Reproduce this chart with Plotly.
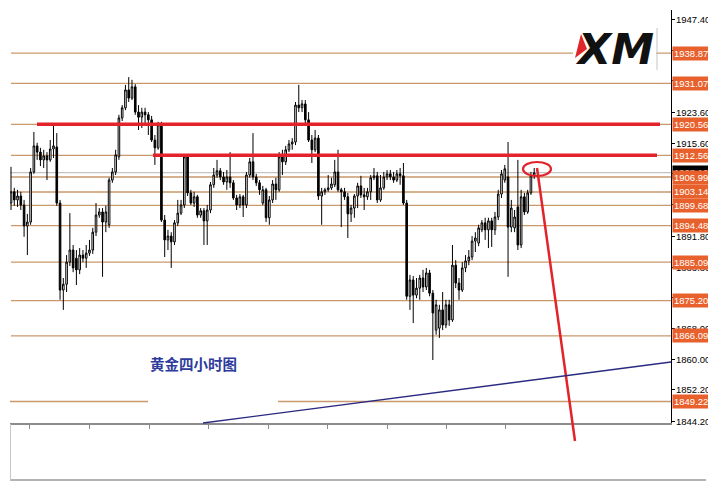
import plotly.graph_objects as go

# ---------------- data (gold, 4-hour candles) ----------------
opens = [1900.3, 1903.2, 1901.1, 1902.1, 1899.8, 1894.4, 1895.4, 1908.3, 1915.0, 1913.4,
         1911.4, 1912.4, 1911.4, 1914.2, 1914.7, 1900.3, 1877.9, 1879.4, 1885.1, 1888.2,
         1886.1, 1883.1, 1886.9, 1886.1, 1887.4, 1888.2, 1892.8, 1897.2, 1898.0, 1895.4,
         1894.7, 1906.2, 1908.3, 1912.2, 1922.2, 1924.8, 1929.4, 1927.3, 1930.2, 1923.7,
         1922.4, 1923.7, 1923.0, 1921.7, 1916.5, 1914.5, 1920.4, 1895.9, 1890.8, 1891.8,
         1890.3, 1895.2, 1897.7, 1899.8, 1912.2, 1902.9, 1900.3, 1901.9, 1897.2, 1898.3,
         1895.7, 1898.5, 1905.0, 1907.5, 1908.6, 1907.0, 1905.7, 1907.0, 1905.5, 1901.6,
         1899.8, 1901.9, 1899.8, 1907.5, 1910.9, 1907.0, 1905.5, 1900.3, 1903.7, 1896.5,
         1901.1, 1905.2, 1903.7, 1912.2, 1910.9, 1914.0, 1915.5, 1916.0, 1925.5, 1924.8,
         1925.8, 1921.7, 1916.5, 1914.0, 1917.0, 1902.1, 1903.2, 1903.7, 1904.2, 1905.0,
         1908.3, 1903.7, 1903.2, 1901.9, 1897.5, 1899.0, 1902.1, 1904.7, 1902.4, 1901.9,
         1903.2, 1906.8, 1907.3, 1901.1, 1904.2, 1907.0, 1907.8, 1907.0, 1906.2, 1907.8,
         1907.3, 1900.3, 1876.3, 1880.5, 1876.6, 1878.4, 1881.0, 1878.7, 1882.3, 1877.1,
         1867.6, 1868.1, 1872.8, 1868.9, 1874.1, 1870.2, 1884.3, 1879.7, 1877.9, 1883.6,
         1885.4, 1886.4, 1890.5, 1890.0, 1893.4, 1895.2, 1893.4, 1895.7, 1893.4, 1896.7,
         1902.6, 1906.2, 1907.0, 1894.1, 1893.9, 1899.3, 1889.5, 1901.9, 1898.0, 1902.9,
         1907.3]
closes = [1903.2, 1901.1, 1902.1, 1899.8, 1894.4, 1895.4, 1908.3, 1915.0, 1913.4, 1911.4,
          1912.4, 1911.4, 1914.2, 1915.0, 1900.3, 1877.9, 1879.4, 1885.1, 1888.2, 1883.6,
          1883.1, 1886.9, 1886.1, 1887.4, 1888.2, 1892.8, 1897.2, 1898.0, 1895.4, 1898.0,
          1906.2, 1908.3, 1912.7, 1922.2, 1924.8, 1929.4, 1927.3, 1930.2, 1923.7, 1922.4,
          1923.7, 1923.0, 1921.7, 1916.5, 1914.5, 1920.4, 1895.9, 1890.8, 1891.8, 1890.3,
          1895.2, 1897.7, 1899.8, 1912.2, 1902.9, 1900.3, 1901.9, 1897.2, 1898.3, 1895.7,
          1898.5, 1905.0, 1907.5, 1908.6, 1907.0, 1905.7, 1907.0, 1905.5, 1901.6, 1899.8,
          1901.9, 1899.8, 1907.5, 1910.9, 1907.0, 1905.5, 1903.7, 1903.7, 1896.5, 1901.1,
          1905.2, 1903.7, 1912.2, 1910.9, 1914.0, 1915.5, 1916.0, 1925.5, 1924.8, 1925.8,
          1921.7, 1916.5, 1914.0, 1917.0, 1902.1, 1903.2, 1903.7, 1904.2, 1905.2, 1908.3,
          1903.7, 1903.2, 1901.9, 1897.5, 1899.0, 1902.1, 1904.7, 1902.4, 1901.9, 1903.2,
          1906.8, 1907.3, 1901.1, 1904.2, 1907.0, 1907.8, 1907.0, 1906.2, 1907.8, 1907.3,
          1900.3, 1876.3, 1880.5, 1876.6, 1878.4, 1881.0, 1878.7, 1882.3, 1877.1, 1872.0,
          1874.1, 1872.8, 1868.9, 1874.1, 1870.2, 1884.3, 1879.7, 1877.9, 1883.6, 1885.4,
          1886.4, 1890.5, 1891.3, 1893.9, 1895.2, 1893.4, 1895.7, 1893.4, 1896.7, 1902.6,
          1907.8, 1909.1, 1894.1, 1899.0, 1896.7, 1889.5, 1901.9, 1898.0, 1902.9, 1907.3,
          1908.1]
highs = [1909.6, 1904.2, 1903.7, 1903.2, 1901.1, 1897.5, 1909.3, 1918.6, 1915.8, 1914.5,
         1914.0, 1913.4, 1916.5, 1920.4, 1918.3, 1901.1, 1881.0, 1886.9, 1897.7, 1889.5,
         1888.2, 1888.7, 1888.2, 1889.5, 1890.8, 1893.9, 1900.3, 1899.0, 1899.0, 1899.6,
         1906.8, 1909.3, 1914.0, 1923.0, 1925.5, 1930.7, 1932.7, 1932.0, 1930.9, 1925.5,
         1924.8, 1924.8, 1923.7, 1922.7, 1917.8, 1921.2, 1921.2, 1897.2, 1893.4, 1892.8,
         1895.9, 1901.1, 1901.1, 1912.7, 1912.7, 1903.7, 1903.2, 1902.4, 1899.0, 1899.0,
         1899.8, 1905.7, 1909.3, 1911.4, 1909.3, 1908.3, 1908.8, 1913.4, 1906.2, 1902.4,
         1902.6, 1902.4, 1908.3, 1911.9, 1918.3, 1907.8, 1906.2, 1904.7, 1904.2, 1902.1,
         1906.2, 1906.8, 1913.4, 1914.0, 1915.0, 1916.5, 1917.0, 1926.3, 1930.7, 1926.8,
         1926.8, 1923.7, 1917.8, 1919.1, 1917.8, 1904.2, 1904.2, 1907.5, 1906.8, 1911.4,
         1914.0, 1904.2, 1904.2, 1902.9, 1899.8, 1902.6, 1905.5, 1907.3, 1904.2, 1904.2,
         1907.5, 1909.3, 1908.3, 1907.5, 1908.3, 1908.8, 1908.8, 1908.3, 1908.8, 1909.3,
         1910.6, 1901.1, 1881.8, 1881.5, 1881.0, 1881.8, 1883.1, 1883.6, 1883.1, 1877.9,
         1875.4, 1874.1, 1877.4, 1875.4, 1875.4, 1889.5, 1885.6, 1881.0, 1885.1, 1886.9,
         1888.2, 1891.8, 1892.8, 1894.7, 1895.9, 1896.5, 1896.5, 1896.5, 1898.0, 1903.7,
         1908.8, 1910.1, 1916.0, 1901.1, 1898.5, 1911.4, 1903.7, 1902.9, 1903.7, 1908.3,
         1909.3]
lows = [1898.5, 1899.6, 1899.3, 1898.5, 1891.6, 1886.9, 1894.7, 1907.8, 1911.4, 1909.8,
        1909.3, 1906.2, 1910.9, 1911.9, 1899.6, 1875.4, 1872.8, 1877.4, 1884.1, 1882.5,
        1879.2, 1882.0, 1885.1, 1883.6, 1886.7, 1887.2, 1891.8, 1896.5, 1881.3, 1892.8,
        1893.9, 1905.5, 1907.5, 1911.4, 1921.4, 1924.2, 1926.3, 1926.8, 1923.0, 1919.1,
        1919.6, 1920.4, 1917.8, 1916.0, 1910.1, 1914.0, 1895.4, 1886.4, 1888.2, 1883.6,
        1889.5, 1894.4, 1897.2, 1899.0, 1902.1, 1899.8, 1899.3, 1896.5, 1896.5, 1889.5,
        1889.5, 1897.7, 1904.2, 1906.8, 1906.2, 1905.0, 1903.7, 1904.2, 1901.1, 1898.5,
        1899.0, 1896.7, 1899.0, 1906.8, 1906.2, 1904.7, 1902.4, 1899.8, 1895.4, 1894.7,
        1900.3, 1901.1, 1903.2, 1907.5, 1910.1, 1913.4, 1914.0, 1915.2, 1923.7, 1923.7,
        1920.6, 1916.0, 1910.6, 1913.4, 1901.1, 1894.7, 1902.4, 1903.2, 1903.7, 1904.4,
        1903.2, 1894.1, 1901.1, 1891.3, 1895.4, 1896.5, 1899.0, 1901.6, 1898.5, 1901.1,
        1901.1, 1906.2, 1900.3, 1900.6, 1903.7, 1906.2, 1906.2, 1905.5, 1905.7, 1905.0,
        1899.8, 1875.4, 1872.8, 1869.4, 1875.8, 1875.4, 1877.4, 1877.9, 1876.3, 1859.9,
        1866.4, 1865.6, 1867.6, 1868.1, 1868.7, 1869.7, 1878.4, 1875.4, 1877.4, 1882.5,
        1884.3, 1885.6, 1887.7, 1889.2, 1892.8, 1890.8, 1888.7, 1889.0, 1892.1, 1895.9,
        1901.6, 1905.5, 1881.3, 1892.8, 1892.8, 1888.2, 1888.7, 1897.2, 1897.5, 1902.4,
        1906.5]

level_prices = [1938.87, 1931.07, 1920.56, 1912.56, 1906.99, 1903.14, 1899.68,
                1894.48, 1885.09, 1875.20, 1866.09, 1849.22]
level_labels = ["1938.87", "1931.07", "1920.56", "1912.56", "1906.99", "1903.14", "1899.68",
                "1894.48", "1885.09", "1875.20", "1866.09", "1849.22"]
# all price-scale tick marks
axis_ticks = [1947.40, 1939.60, 1931.80, 1923.60, 1915.60, 1907.80, 1899.80,
              1891.80, 1883.80, 1876.00, 1868.00, 1860.00, 1852.20, 1844.20]
# price-scale labels that are visible (the others sit under the level labels)
label_ticks = [1947.40, 1923.60, 1915.60, 1891.80, 1883.80, 1868.00, 1860.00, 1852.20, 1844.20]
label_texts = ["1947.40", "1923.60", "1915.60", "1891.80", "1883.80", "1868.00", "1860.00",
               "1852.20", "1844.20"]
resistance_prices = [1920.56, 1912.56]
bid_price = 1908.10
bid_label = "1908.10"
time_ticks = [5.8, 24.0, 42.2, 60.4, 78.6, 96.8, 115.0, 133.1, 151.3]
title_text = "黄金四小时图"

# ---------------- geometry (target pixels -> paper) ----------------
# the page body has an 8px margin, so the figure is 8px smaller in each direction
PAGE_OFF = 8
W, H = 716, 499
L, R, T, B = 10, 671, 10, 423


def px(x):
    return (x - L) / (R - L)


def py(y):
    return (B - y) / (B - T)


fig = go.Figure(go.Candlestick(
    x=list(range(len(opens))), open=opens, high=highs, low=lows, close=closes,
    increasing=dict(fillcolor="white", line=dict(color="black", width=1)),
    decreasing=dict(fillcolor="black", line=dict(color="black", width=1)),
    whiskerwidth=0, showlegend=False, hoverinfo="skip"))

shapes = []
LEVEL_COL = "#c9996c"
# horizontal level lines
for p in level_prices:
    if p == 1849.22:
        for a, b in [(10, 148), (278, 671)]:
            shapes.append(dict(type="line", xref="paper", yref="y", x0=px(a), x1=px(b),
                               y0=p, y1=p, line=dict(color=LEVEL_COL, width=1.3), layer="below"))
    else:
        shapes.append(dict(type="line", xref="paper", yref="y", x0=px(11), x1=1,
                           y0=p, y1=p, line=dict(color=LEVEL_COL, width=1.3), layer="below"))
# bid line
shapes.append(dict(type="line", xref="paper", yref="y", x0=0, x1=1, y0=bid_price, y1=bid_price,
                   line=dict(color="#b4b4b4", width=1), layer="below"))
# red resistance lines
RED = "#e2232a"
for p, (a, b) in zip(resistance_prices, [(37, 660), (153, 657)]):
    shapes.append(dict(type="line", xref="paper", yref="y", x0=px(a), x1=px(b),
                       y0=p, y1=p, line=dict(color=RED, width=3.5)))
# ellipse and down arrow line
shapes.append(dict(type="circle", xref="paper", yref="paper", x0=px(523), x1=px(551),
                   y0=py(176), y1=py(162), line=dict(color=RED, width=2.2)))
shapes.append(dict(type="line", xref="paper", yref="paper", x0=px(537), y0=py(168),
                   x1=px(575), y1=py(441), line=dict(color=RED, width=2.5)))
# blue trend line
shapes.append(dict(type="line", xref="paper", yref="paper", x0=px(203), y0=py(423),
                   x1=px(671), y1=py(362), line=dict(color="#2a2a82", width=1.3)))
# lower panel frame
shapes.append(dict(type="line", xref="paper", yref="paper", x0=px(10), y0=py(480),
                   x1=px(706), y1=py(480), line=dict(color="#9a9a9a", width=1.5)))
shapes.append(dict(type="line", xref="paper", yref="paper", x0=px(10.5), y0=py(424),
                   x1=px(10.5), y1=py(480), line=dict(color="#c8c8c8", width=1)))
# logo box
shapes.append(dict(type="rect", xref="paper", yref="paper", x0=px(573), x1=px(656),
                   y0=py(73), y1=py(23), fillcolor="white", line=dict(width=0)))
shapes.append(dict(type="line", xref="paper", yref="paper", x0=px(657), x1=px(657),
                   y0=py(70), y1=py(28), line=dict(color="#c4c4c4", width=1)))
# red sliver of the logo
shapes.append(dict(type="path", xref="paper", yref="paper",
                   path=f"M {px(581)} {py(34)} L {px(575)} {py(58)} L {px(587)} {py(49)} Z",
                   fillcolor="#e0262b", line=dict(width=0)))

annotations = []
# axis tick labels (black)
for v, t in zip(label_ticks, label_texts):
    annotations.append(dict(xref="paper", yref="y", x=1, y=v, text=t, showarrow=False,
                            xanchor="left", xshift=3, yanchor="middle",
                            font=dict(family="Liberation Sans", size=9.5, color="black")))
# current price label (black)
annotations.append(dict(xref="paper", yref="y", x=1, y=bid_price, text=bid_label, showarrow=False,
                        xanchor="left", xshift=1, yanchor="middle", bgcolor="black",
                        width=50, align="left", borderpad=1,
                        font=dict(family="Liberation Sans", size=9.5, color="white")))
# level labels (orange)
for v, t in zip(level_prices, level_labels):
    annotations.append(dict(xref="paper", yref="y", x=1, y=v, text=t, showarrow=False,
                            xanchor="left", xshift=1, yanchor="middle", bgcolor="#e8612c",
                            width=50, align="left", borderpad=1,
                            font=dict(family="Liberation Sans", size=9.5, color="white")))
# title text
annotations.append(dict(xref="paper", yref="paper", x=px(193), y=py(363), text=f"<b>{title_text}</b>",
                        showarrow=False, xanchor="center", yanchor="middle",
                        font=dict(family="Noto Sans CJK SC", size=14.5, color="#2d3b9c")))
# XM logo text
annotations.append(dict(xref="paper", yref="paper", x=px(614), y=py(49), text="<b><i>XM</i></b>",
                        showarrow=False, xanchor="center", yanchor="middle",
                        font=dict(family="DejaVu Sans", size=43, color="#111111")))

fig.update_layout(
    width=W - PAGE_OFF, height=H - PAGE_OFF, autosize=False,
    margin=dict(l=L - PAGE_OFF, r=W - R, t=T - PAGE_OFF, b=H - B, pad=0),
    paper_bgcolor="white", plot_bgcolor="white",
    shapes=shapes, annotations=annotations,
    xaxis=dict(range=[-0.306, 201.83], showgrid=False, zeroline=False,
               showline=True, linecolor="#8c8c8c", linewidth=2,
               ticks="outside", tickvals=time_ticks, ticklen=4, tickcolor="#8c8c8c",
               showticklabels=False, rangeslider=dict(visible=False), fixedrange=True),
    yaxis=dict(range=[1843.69, 1949.97], side="right", showgrid=False, zeroline=False,
               showline=True, linecolor="black", linewidth=1,
               ticks="outside", tickvals=axis_ticks, ticklen=3, tickcolor="black",
               showticklabels=False, fixedrange=True),
)

fig.write_html("out.html")
